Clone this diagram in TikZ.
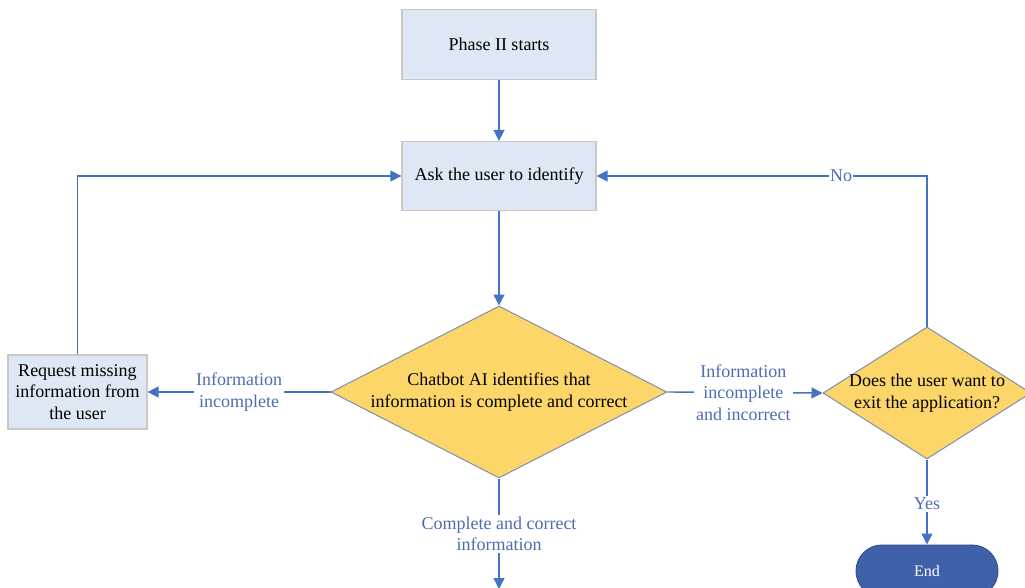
\documentclass[tikz,border=0pt]{standalone}
\usepackage{fontspec}
\setmainfont{Liberation Serif}
\usetikzlibrary{arrows.meta,shapes.geometric,shapes.misc}

\definecolor{boxfill}{HTML}{DEE8F4}
\definecolor{boxline}{HTML}{C8C8C8}
\definecolor{diamfill}{HTML}{FDD66A}
\definecolor{diamline}{HTML}{7F8FAE}
\definecolor{lineblue}{HTML}{4472C4}
\definecolor{labelblue}{HTML}{4E6BB6}
\definecolor{endfill}{HTML}{3E61AA}
\definecolor{endline}{HTML}{35528F}

\tikzset{
  txt/.style={font=\fontsize{18}{21.5}\selectfont},
  procbox/.style={txt, draw=boxline, fill=boxfill, line width=1.2pt,
    minimum width=194pt, minimum height=70pt, inner sep=0pt, align=center},
  decision/.style={diamond, draw=diamline, fill=diamfill, line width=1pt,
    inner sep=0pt},
  terminal/.style={rounded rectangle, draw=endline, fill=endfill, line width=1pt,
    minimum width=142pt, minimum height=52pt, inner sep=0pt, text=white,
    font=\fontsize{16}{19}\selectfont},
  flowlabel/.style={txt, text=labelblue, fill=white, align=center, inner sep=2pt},
  link/.style={draw=lineblue, line width=1.4pt,
    -{Triangle[length=11pt,width=11pt]}},
}

\begin{document}
\begin{tikzpicture}[x=1pt,y=-1pt]
  \useasboundingbox (0,0) rectangle (1025,588);
  \clip (0,0) rectangle (1025,588);

  % process boxes
  \node[procbox] (start) at (499,44.5) {Phase II starts};
  \node[procbox, minimum height=69pt] (ask) at (499,176) {Ask the user to identify};
  \node[procbox, minimum width=139pt, minimum height=74pt] (req) at (77.5,392)
    {Request missing\\information from\\the user};

  % decisions
  \node[decision, minimum width=336pt, minimum height=172pt] (check) at (499,392) {};
  \node[txt, align=center] (checktxt) at (check.center)
    {Chatbot AI identifies that\\information is complete and correct};
  \node[decision, minimum width=208pt, minimum height=132pt] (quit) at (927,393) {};
  \node[txt, align=center] (quittxt) at (quit.center)
    {Does the user want to\\exit the application?};

  % terminal
  \node[terminal] (finish) at (927,571) {End};
  \coordinate (below) at (499,589);

  % connectors
  \draw[link] (start) -- (ask);
  \draw[link] (ask) -- (check.north);
  \draw[link] (check.west) -- node[flowlabel] {Information\\incomplete} (req.east);
  \draw[link] (req.north) |- (ask.west);
  \draw[link] (check.east) -- node[flowlabel, pos=0.49]
    {Information\\incomplete\\and incorrect} (quit.west);
  \draw[link] (quit.north) |- node[flowlabel, pos=0.63, inner sep=1pt] {No} (ask.east);
  \draw[link] (quit.south) -- node[flowlabel, pos=0.52] {Yes} (finish.north);
  \draw[link] (check.south) -- node[flowlabel, pos=0.5]
    {Complete and correct\\information} (below);
\end{tikzpicture}
\end{document}
